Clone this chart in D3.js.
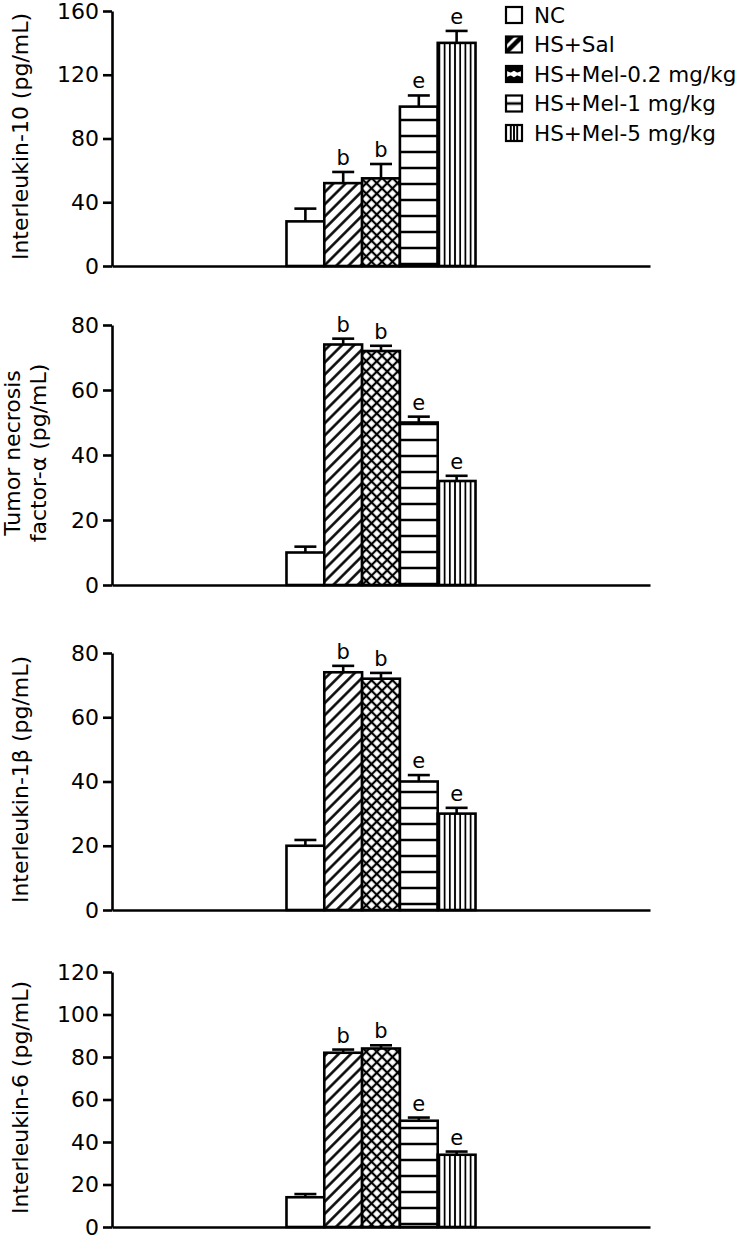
<!DOCTYPE html>
<html><head><meta charset="utf-8">
<script src="https://cdn.jsdelivr.net/npm/d3@7"></script>
<style>
body{margin:0;background:#fff}
svg{display:block}
text{font-family:"DejaVu Sans",sans-serif;fill:#000}
</style></head>
<body><svg id="c" width="740" height="1240"></svg>
<script>
// ---- data ----
const groups = ["NC", "HS+Sal", "HS+Mel-0.2 mg/kg", "HS+Mel-1 mg/kg", "HS+Mel-5 mg/kg"];
const sigLetters = ["", "b", "b", "e", "e"];

const il10Mean = [28, 52, 55, 100, 140];
const il10Err  = [8, 7, 9, 7, 7.5];
const il10Ticks = [0, 40, 80, 120, 160];

const tnfMean = [10, 74, 72, 50, 32];
const tnfErr  = [1.8, 1.8, 1.6, 1.8, 1.6];
const tnfTicks = [0, 20, 40, 60, 80];

const il1bMean = [20, 74, 72, 40, 30];
const il1bErr  = [1.8, 2, 1.8, 2, 1.8];
const il1bTicks = [0, 20, 40, 60, 80];

const il6Mean = [14, 82, 84, 50, 34];
const il6Err  = [1.5, 1.5, 1.5, 1.5, 1.5];
const il6Ticks = [0, 20, 40, 60, 80, 100, 120];

// ---- layout ----
const panels = [
  {mean: il10Mean, err: il10Err, ticks: il10Ticks, title: ["Interleukin-10 (pg/mL)"], top: 11, bottom: 266},
  {mean: tnfMean, err: tnfErr, ticks: tnfTicks, title: ["Tumor necrosis", "factor-α (pg/mL)"], top: 325, bottom: 585},
  {mean: il1bMean, err: il1bErr, ticks: il1bTicks, title: ["Interleukin-1β (pg/mL)"], top: 653, bottom: 910},
  {mean: il6Mean, err: il6Err, ticks: il6Ticks, title: ["Interleukin-6 (pg/mL)"], top: 972, bottom: 1227}
];
const xLeft = 112, xRight = 650;
const SW = 2.6;
const FS = 22;

const svg = d3.select("#c");
const defs = svg.append("defs");

// patterns for bars
function pat(id, w, h, rot) {
  const p = defs.append("pattern").attr("id", id).attr("patternUnits", "userSpaceOnUse")
    .attr("width", w).attr("height", h);
  if (rot) p.attr("patternTransform", `rotate(${rot})`);
  p.append("rect").attr("width", w).attr("height", h).attr("fill", "#fff");
  return p;
}
let p;
p = pat("pDiag", 8.6, 8.6, 45);
p.append("line").attr("x1", 4.3).attr("x2", 4.3).attr("y1", -1).attr("y2", 9.6).attr("stroke", "#000").attr("stroke-width", 2.5);
p = pat("pCross", 7.4, 7.4, 45);
p.append("line").attr("x1", 3.7).attr("x2", 3.7).attr("y1", -1).attr("y2", 8.4).attr("stroke", "#000").attr("stroke-width", 2.2);
p.append("line").attr("y1", 3.7).attr("y2", 3.7).attr("x1", -1).attr("x2", 8.4).attr("stroke", "#000").attr("stroke-width", 2.2);
p = pat("pHoriz", 10, 16, 0);
p.append("line").attr("y1", 8).attr("y2", 8).attr("x1", -1).attr("x2", 11).attr("stroke", "#000").attr("stroke-width", 2.5);
p = pat("pVert", 5.2, 10, 0);
p.append("line").attr("x1", 2.6).attr("x2", 2.6).attr("y1", -1).attr("y2", 11).attr("stroke", "#000").attr("stroke-width", 1.8);

// legend patterns (bbox units)
function lpat(id) {
  const q = defs.append("pattern").attr("id", id).attr("patternUnits", "objectBoundingBox")
    .attr("patternContentUnits", "objectBoundingBox").attr("width", 1).attr("height", 1);
  q.append("rect").attr("width", 1).attr("height", 1).attr("fill", "#fff");
  return q;
}
let q;
q = lpat("lDiag");
q.append("line").attr("x1", 0).attr("y1", 1).attr("x2", 1).attr("y2", 0).attr("stroke", "#000").attr("stroke-width", 0.28);
q.append("path").attr("d", "M0,0.55 L0.55,0 L0,0 Z").attr("fill", "#000");
q = lpat("lCross");
q.append("path").attr("d", "M0,0 L1,0 L1,0.3 L0.5,0.5 L0,0.3 Z M0,0.7 L0.5,0.5 L1,0.7 L1,1 L0,1 Z").attr("fill", "#000");
q.append("path").attr("d", "M0.15,0.5 L0.5,0.3 L0.85,0.5 L0.5,0.7 Z").attr("fill", "#fff");
q = lpat("lHoriz");
q.append("line").attr("x1", 0).attr("x2", 1).attr("y1", 0.5).attr("y2", 0.5).attr("stroke", "#000").attr("stroke-width", 0.16);
q = lpat("lVert");
[0.3, 0.5, 0.7].forEach(v => q.append("line").attr("x1", v).attr("x2", v).attr("y1", 0).attr("y2", 1).attr("stroke", "#000").attr("stroke-width", 0.12));

const fills = ["#fff", "url(#pDiag)", "url(#pCross)", "url(#pHoriz)", "url(#pVert)"];
const lfills = ["#fff", "url(#lDiag)", "url(#lCross)", "url(#lHoriz)", "url(#lVert)"];

// x scales: one group, bars inside
const x0 = d3.scaleBand().domain(["all"]).range([xLeft, xRight]).paddingOuter(0.923).paddingInner(0);
const x1 = d3.scaleBand().domain(groups).range([0, x0.bandwidth()]).padding(0);

panels.forEach(pn => {
  const y = d3.scaleLinear().domain([0, d3.max(pn.ticks)]).range([pn.bottom, pn.top]);
  const g = svg.append("g");
  const rows = groups.map((k, i) => ({k, i, m: pn.mean[i], e: pn.err[i], s: sigLetters[i]}));

  // bars
  g.selectAll("rect.bar").data(rows).join("rect").attr("class", "bar")
    .attr("x", d => x0("all") + x1(d.k))
    .attr("y", d => y(d.m))
    .attr("width", x1.bandwidth())
    .attr("height", d => y(0) - y(d.m))
    .attr("fill", d => fills[d.i]).attr("stroke", "#000").attr("stroke-width", SW);

  // error bars
  const cx = d => x0("all") + x1(d.k) + x1.bandwidth() / 2;
  g.selectAll("line.eb").data(rows).join("line").attr("class", "eb")
    .attr("x1", cx).attr("x2", cx).attr("y1", d => y(d.m)).attr("y2", d => y(d.m + d.e))
    .attr("stroke", "#000").attr("stroke-width", SW);
  g.selectAll("line.cap").data(rows).join("line").attr("class", "cap")
    .attr("x1", d => cx(d) - 11).attr("x2", d => cx(d) + 11)
    .attr("y1", d => y(d.m + d.e)).attr("y2", d => y(d.m + d.e))
    .attr("stroke", "#000").attr("stroke-width", SW);
  g.selectAll("text.sig").data(rows.filter(d => d.s)).join("text").attr("class", "sig")
    .attr("x", cx).attr("y", d => y(d.m + d.e) - 7)
    .attr("text-anchor", "middle").attr("font-size", 21).text(d => d.s);

  // y axis
  const ya = g.append("g").attr("transform", `translate(${xLeft},0)`)
    .call(d3.axisLeft(y).tickValues(pn.ticks).tickSize(9).tickSizeOuter(0).tickPadding(4));
  ya.selectAll("path, line").attr("stroke", "#000").attr("stroke-width", SW);
  ya.selectAll("text").attr("font-size", FS).attr("font-family", "DejaVu Sans, sans-serif").attr("fill", "#000");

  // x axis
  const xa = g.append("g").attr("transform", `translate(0,${y(0)})`)
    .call(d3.axisBottom(x0).tickSize(0).tickFormat(""));
  xa.selectAll("path").attr("stroke", "#000").attr("stroke-width", SW);

  // title
  const cy = (pn.top + pn.bottom) / 2 - 2;
  const n = pn.title.length;
  pn.title.forEach((t, i) => {
    const tx = n === 1 ? 20 : 12 + i * 26;
    g.append("text").attr("transform", `translate(${tx},${cy}) rotate(-90)`)
      .attr("text-anchor", "middle").attr("dominant-baseline", "central")
      .attr("font-size", FS).text(t);
  });
});

// legend
const lg = svg.append("g").attr("transform", "translate(506,0)");
const li = lg.selectAll("g").data(groups).join("g")
  .attr("transform", (d, i) => `translate(0,${15 + i * 29.5})`);
li.append("rect").attr("x", 0).attr("y", -8).attr("width", 16).attr("height", 16)
  .attr("fill", (d, i) => lfills[i]).attr("stroke", "#000").attr("stroke-width", 2.2);
li.append("text").attr("x", 28).attr("y", 0).attr("dominant-baseline", "central")
  .attr("font-size", 21.5).text(d => d);
</script></body></html>
